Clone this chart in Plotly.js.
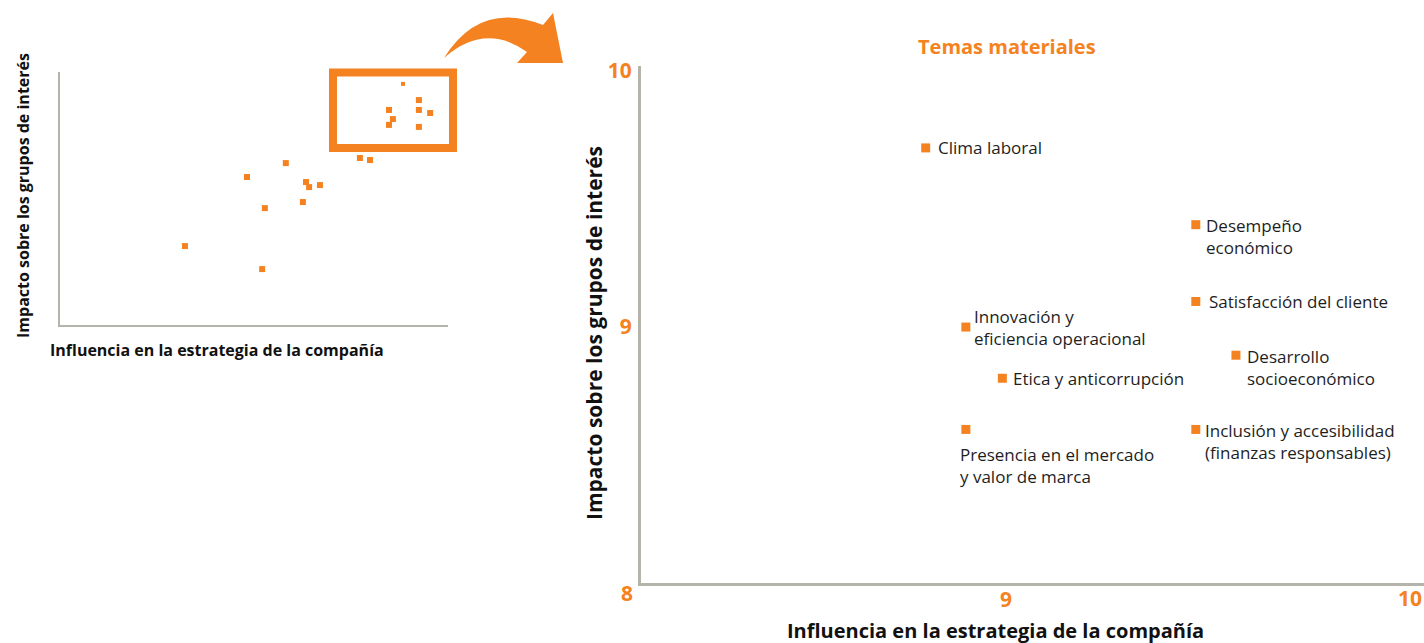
<!DOCTYPE html>
<html>
<head>
<meta charset="utf-8">
<script src="https://cdn.plot.ly/plotly-3.0.1.min.js"></script>
<style>
  html, body { margin: 0; padding: 0; background: #fff; }
  #chart { width: 1424px; height: 643px; }
</style>
</head>
<body>
<div id="chart"></div>
<script>
// Materialidad - vista general + detalle
const ORANGE = '#F58220';
const AXIS_GREY = '#B4B4AA';
const TEXT_DARK = '#1E1E1E';
const W = 1424, H = 643;

// overview scatter (left), arbitrary 0-10 scale
const overviewX = [8.84, 9.25, 8.48, 9.25, 9.54, 8.58, 8.48, 9.25, 7.73, 7.99, 5.82, 4.82, 6.34, 6.42, 6.70, 6.26, 5.28, 3.22, 5.21];
const overviewY = [9.53, 8.89, 8.50, 8.50, 8.38, 8.14, 7.91, 7.83, 6.60, 6.52, 6.40, 5.85, 5.65, 5.45, 5.53, 4.86, 4.62, 3.12, 2.21];

// detail scatter (right)
const topics = [
    'Clima laboral',
    'Desempeño<br>económico',
    'Satisfacción del cliente',
    'Innovación y<br>eficiencia operacional',
    'Desarrollo<br>socioeconómico',
    'Etica y anticorrupción',
    'Presencia en el mercado<br>y valor de marca',
    'Inclusión y accesibilidad<br>(finanzas responsables)'
];
const influence = [8.78, 9.52, 9.52, 8.89, 9.63, 8.99, 8.89, 9.52];
const impact    = [9.70, 9.40, 9.10, 9.00, 8.89, 8.80, 8.60, 8.60];

// label offsets in pixels from each marker [dx, dy]
const labelShift = [[10, 0], [8, -12], [11, 0], [6, 0], [9, -12], [9, 0], [-8, -36], [7, -12]];

const px = x => x / W;
const py = y => 1 - y / H;

const overviewTrace = {
    x: overviewX,
    y: overviewY,
    xaxis: 'x',
    yaxis: 'y',
    type: 'scatter',
    mode: 'markers',
    marker: {
        symbol: 'square', color: ORANGE, opacity: 1,
        size: overviewX.map((_, i) => i === 0 ? 4 : 6),
        line: { width: 0 }
    },
    hoverinfo: 'skip'
};

const detailTrace = {
    x: influence,
    y: impact,
    xaxis: 'x2',
    yaxis: 'y2',
    type: 'scatter',
    mode: 'markers',
    marker: { symbol: 'square', color: ORANGE, size: 9, line: { width: 0 } },
    text: topics.map(t => t.replace(/<br>/g, ' ')),
    hovertemplate: '<b>%{text}</b><br>Influencia: %{x}<br>Impacto: %{y}<extra></extra>'
};

const font = 'Open Sans, DejaVu Sans, sans-serif';

const annotations = topics.map((t, i) => ({
    x: influence[i],
    y: impact[i],
    xref: 'x2',
    yref: 'y2',
    text: t,
    showarrow: false,
    xanchor: 'left',
    yanchor: 'middle',
    align: 'left',
    xshift: labelShift[i][0],
    yshift: labelShift[i][1],
    font: { family: font, size: 17, color: TEXT_DARK }
}));

function pixelLabel(text, x, y, opts) {
    return Object.assign({
        text: text, x: px(x), y: py(y), xref: 'paper', yref: 'paper',
        showarrow: false, xanchor: 'center', yanchor: 'middle'
    }, opts);
}

const tickFont = { family: font, size: 21, color: ORANGE };
const titleFont = { family: font, size: 16, color: '#111' };

annotations.push(
    pixelLabel('<b>Temas materiales</b>', 1007, 47, { font: { family: font, size: 20, color: ORANGE } }),
    pixelLabel('<b>8</b>', 627, 593, { font: tickFont }),
    pixelLabel('<b>10</b>', 1410, 598, { font: tickFont }),
    pixelLabel('<b>Influencia en la estrategia de la compañía</b>', 995, 630, { font: { family: font, size: 20, color: '#111' } }),
    pixelLabel('<b>Impacto sobre los grupos de interés</b>', 594, 333, { font: { family: font, size: 21, color: '#111' }, textangle: -90 }),
    pixelLabel('<b>Influencia en la estrategia de la compañía</b>', 48, 350, { font: titleFont, xanchor: 'left' }),
    pixelLabel('<b>Impacto sobre los grupos de interés</b>', 23, 196, { font: titleFont, textangle: -90 })
);

// curved arrow (pixel coords converted to paper)
const arrowPts = [
    ['M', 444, 58], ['Q', 480, 0, 543, 25], ['L', 553, 13], ['L', 563, 63],
    ['L', 517, 63], ['L', 527, 52], ['Q', 485, 22, 444, 58]
];
const arrowPath = arrowPts.map(p => {
    let s = p[0];
    for (let k = 1; k < p.length; k += 2) s += ' ' + px(p[k]).toFixed(5) + ',' + py(p[k + 1]).toFixed(5);
    return s;
}).join(' ') + ' Z';

const shapes = [
    {
        type: 'rect', xref: 'paper', yref: 'paper',
        x0: px(333), x1: px(453), y0: py(72.5), y1: py(148),
        line: { color: ORANGE, width: 8 }, fillcolor: 'rgba(0,0,0,0)'
    },
    {
        type: 'path', xref: 'paper', yref: 'paper', path: arrowPath,
        fillcolor: ORANGE, line: { width: 0 }
    }
];

const layout = {
    width: W,
    height: H,
    margin: { t: 0, r: 0, b: 0, l: 0 },
    paper_bgcolor: '#fff',
    plot_bgcolor: 'rgba(0,0,0,0)',
    showlegend: false,
    font: { family: font, color: TEXT_DARK },
    xaxis: {
        domain: [px(60), px(448)], range: [0, 10], anchor: 'y',
        showline: true, linecolor: AXIS_GREY, linewidth: 2,
        showgrid: false, zeroline: false, showticklabels: false, ticks: '', fixedrange: true
    },
    yaxis: {
        domain: [py(325), py(72)], range: [0, 10], anchor: 'x',
        showline: true, linecolor: AXIS_GREY, linewidth: 2,
        showgrid: false, zeroline: false, showticklabels: false, ticks: '', fixedrange: true
    },
    xaxis2: {
        domain: [px(641), 1], range: [8, 8 + 783 / 365], anchor: 'y2',
        showline: true, linecolor: AXIS_GREY, linewidth: 3,
        showgrid: false, zeroline: false, ticks: '', ticklabelstandoff: -4,
        tickvals: [9], ticktext: ['<b>9</b>'], tickfont: tickFont, fixedrange: true
    },
    yaxis2: {
        domain: [py(583), py(66)], range: [8, 10.02], anchor: 'x2',
        showline: true, linecolor: AXIS_GREY, linewidth: 3,
        showgrid: false, zeroline: false, ticks: '', ticklabelstandoff: 2,
        tickvals: [9, 10], ticktext: ['<b>9</b>', '<b>10</b>'], tickfont: tickFont, fixedrange: true
    },
    annotations: annotations,
    shapes: shapes
};

Plotly.newPlot('chart', [overviewTrace, detailTrace], layout, { displayModeBar: false, responsive: false });
</script>
</body>
</html>
